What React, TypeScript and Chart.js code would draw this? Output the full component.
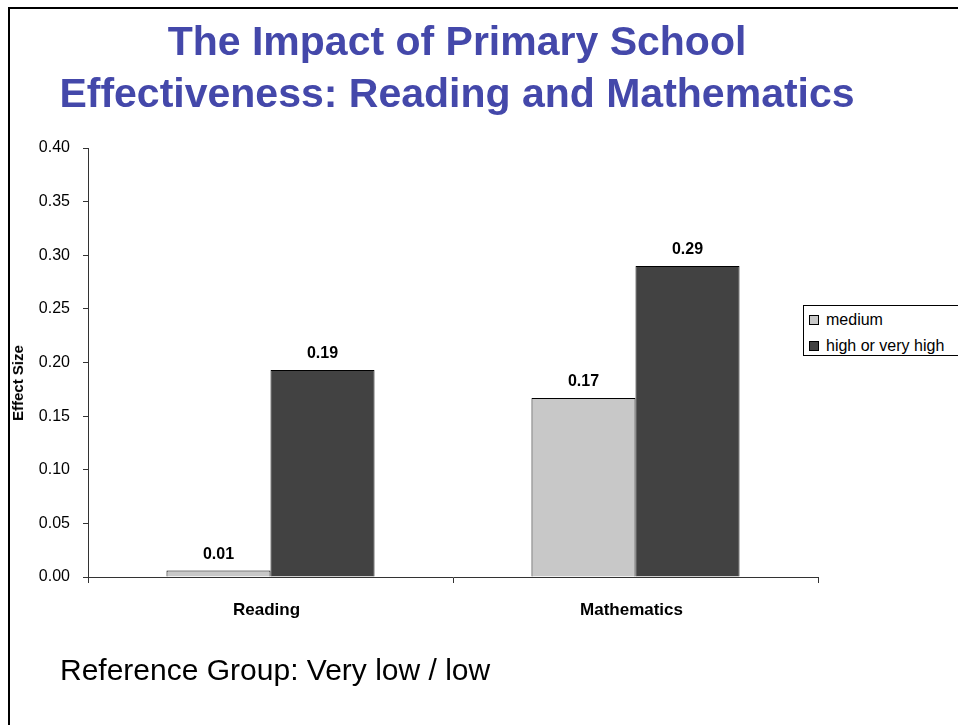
import React, { useEffect, useRef } from "react";
import { Chart, registerables } from "chart.js";

Chart.register(...registerables);

const categories = ["Reading", "Mathematics"];
const seriesNames = ["medium", "high or very high"];
const mediumValues = [0.006, 0.167];
const highValues = [0.193, 0.29];
const yTicks = [0, 0.05, 0.1, 0.15, 0.2, 0.25, 0.3, 0.35, 0.4];
const seriesColors = ["#c8c8c8", "#424242"];

const FONT = "'Liberation Sans', Arial, Helvetica, sans-serif";

const valueLabels = {
  id: "valueLabels",
  afterDatasetsDraw(chart: any) {
    const ctx = chart.ctx;
    ctx.save();
    ctx.font = `bold 16px ${FONT}`;
    ctx.fillStyle = "#000";
    ctx.textAlign = "center";
    ctx.textBaseline = "alphabetic";
    chart.data.datasets.forEach((ds: any, di: number) => {
      const meta = chart.getDatasetMeta(di);
      meta.data.forEach((bar: any, i: number) => {
        const v = ds.data[i] as number;
        ctx.fillText(v.toFixed(2), bar.x, bar.y - 12);
      });
    });
    ctx.restore();
  },
};

export default function App() {
  const ref = useRef<HTMLCanvasElement | null>(null);

  useEffect(() => {
    if (!ref.current) return;
    const chart = new Chart(ref.current, {
      type: "bar",
      data: {
        labels: categories,
        datasets: [
          {
            label: seriesNames[0],
            data: mediumValues,
            backgroundColor: seriesColors[0],
            borderColor: "#000",
            borderWidth: 1,
            categoryPercentage: 0.57,
            barPercentage: 1,
          },
          {
            label: seriesNames[1],
            data: highValues,
            backgroundColor: seriesColors[1],
            borderColor: "#000",
            borderWidth: 1,
            categoryPercentage: 0.57,
            barPercentage: 1,
          },
        ],
      },
      options: {
        responsive: false,
        animation: false,
        devicePixelRatio: 1,
        layout: { padding: { left: 0, top: 148, right: 140, bottom: 0 } },
        plugins: {
          legend: { display: false },
          tooltip: { enabled: false },
          title: { display: false },
        },
        scales: {
          x: {
            afterFit: (s: any) => {
              s.height = 148;
            },
            grid: {
              drawOnChartArea: false,
              drawTicks: true,
              tickLength: 6,
              color: "#333",
              offset: true,
            },
            border: { display: true, color: "#333", width: 1 },
            ticks: {
              color: "#000",
              padding: 17,
              labelOffset: -4,
              font: { family: FONT, size: 17, weight: "bold" },
            },
          },
          y: {
            min: 0,
            max: 0.4,
            afterFit: (s: any) => {
              s.width = 88;
            },
            afterBuildTicks: (s: any) => {
              s.ticks = yTicks.map((v) => ({ value: v }));
            },
            grid: {
              drawOnChartArea: false,
              drawTicks: true,
              tickLength: 5,
              color: "#333",
            },
            border: { display: true, color: "#333", width: 1 },
            ticks: {
              color: "#000",
              padding: 13,
              font: { family: FONT, size: 16 },
              callback: (v: any) => Number(v).toFixed(2),
            },
          },
        },
      },
      plugins: [valueLabels],
    });
    return () => chart.destroy();
  }, []);

  return (
    <div
      style={{
        position: "absolute",
        left: 0,
        top: 0,
        width: 958,
        height: 725,
        overflow: "hidden",
        background: "#fff",
        fontFamily: FONT,
      }}
    >
      <div
        style={{
          position: "absolute",
          left: 8,
          top: 7,
          width: 1200,
          height: 1200,
          borderLeft: "2px solid #000",
          borderTop: "2px solid #000",
        }}
      />
      <canvas
        ref={ref}
        width={958}
        height={725}
        style={{ position: "absolute", left: 0, top: 0, width: 958, height: 725 }}
      />
      <div
        style={{
          position: "absolute",
          left: 18,
          top: 383,
          transform: "translate(-50%, -50%) rotate(-90deg)",
          fontSize: 15,
          fontWeight: "bold",
          color: "#000",
          whiteSpace: "nowrap",
          lineHeight: "16px",
        }}
      >
        Effect Size
      </div>
      <div
        style={{
          position: "absolute",
          left: 0,
          top: 15,
          width: 914,
          textAlign: "center",
          color: "#4448aa",
          fontWeight: "bold",
          fontSize: 41,
          lineHeight: "52px",
        }}
      >
        The Impact of Primary School
        <br />
        Effectiveness: Reading and Mathematics
      </div>
      <div
        style={{
          position: "absolute",
          left: 803,
          top: 305,
          width: 170,
          height: 49,
          border: "1px solid #000",
          background: "#fff",
          fontSize: 16,
          color: "#000",
        }}
      >
        {seriesNames.map((n, i) => (
          <div
            key={n}
            style={{
              position: "absolute",
              left: 5,
              top: 4 + i * 26,
              height: 20,
              display: "flex",
              alignItems: "center",
              whiteSpace: "nowrap",
            }}
          >
            <span
              style={{
                display: "inline-block",
                width: 8,
                height: 8,
                border: "1px solid #000",
                background: seriesColors[i],
                marginRight: 7,
              }}
            />
            <span>{n}</span>
          </div>
        ))}
      </div>
      <div
        style={{
          position: "absolute",
          left: 60,
          top: 655,
          fontSize: 30,
          lineHeight: "30px",
          color: "#000",
          whiteSpace: "nowrap",
        }}
      >
        Reference Group: Very low / low
      </div>
    </div>
  );
}
